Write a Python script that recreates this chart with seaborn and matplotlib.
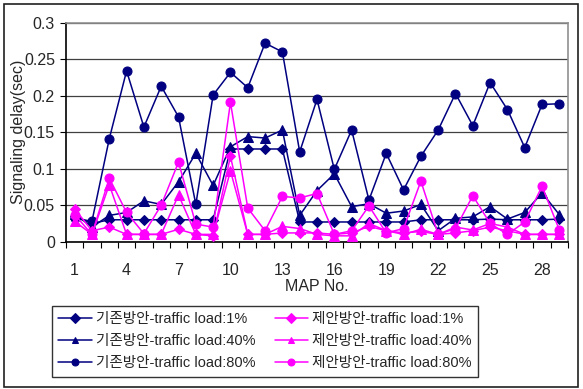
import matplotlib
matplotlib.use("Agg")
import matplotlib.pyplot as plt
import seaborn as sns
import numpy as np
import pandas as pd
from matplotlib.patches import Rectangle
from matplotlib.ticker import FixedLocator, MultipleLocator

# MAP numbers
map_no = list(range(1, 30))

# Existing scheme (기존방안)
base_1 = [0.035, 0.025, 0.030, 0.030, 0.030, 0.030, 0.030, 0.030, 0.030, 0.127,
          0.127, 0.127, 0.127, 0.027, 0.027, 0.027, 0.027, 0.027, 0.027, 0.027,
          0.030, 0.030, 0.030, 0.030, 0.031, 0.030, 0.030, 0.030, 0.031]
base_40 = [0.038, 0.020, 0.036, 0.040, 0.056, 0.051, 0.082, 0.121, 0.077, 0.130,
           0.144, 0.142, 0.153, 0.036, 0.070, 0.093, 0.048, 0.052, 0.039, 0.042,
           0.051, 0.015, 0.032, 0.034, 0.048, 0.031, 0.040, 0.067, 0.037]
base_80 = [0.032, 0.028, 0.141, 0.234, 0.157, 0.213, 0.171, 0.051, 0.201, 0.232,
           0.211, 0.272, 0.260, 0.123, 0.195, 0.099, 0.153, 0.057, 0.121, 0.071,
           0.117, 0.153, 0.203, 0.159, 0.218, 0.181, 0.129, 0.188, 0.189]

# Proposed scheme (제안방안)
prop_1 = [0.045, 0.015, 0.020, 0.010, 0.010, 0.010, 0.017, 0.010, 0.008, 0.117,
          0.010, 0.010, 0.012, 0.012, 0.012, 0.010, 0.012, 0.021, 0.015, 0.012,
          0.014, 0.010, 0.012, 0.015, 0.020, 0.015, 0.010, 0.010, 0.010]
prop_40 = [0.028, 0.010, 0.078, 0.010, 0.010, 0.010, 0.064, 0.010, 0.010, 0.097,
           0.010, 0.010, 0.021, 0.018, 0.010, 0.008, 0.008, 0.025, 0.015, 0.010,
           0.017, 0.010, 0.020, 0.016, 0.025, 0.020, 0.010, 0.010, 0.010]
prop_80 = [0.037, 0.010, 0.087, 0.040, 0.011, 0.050, 0.109, 0.024, 0.020, 0.191,
           0.046, 0.015, 0.062, 0.060, 0.066, 0.010, 0.015, 0.049, 0.012, 0.018,
           0.083, 0.010, 0.018, 0.063, 0.025, 0.010, 0.027, 0.076, 0.016]

y_ticks = [0, 0.05, 0.1, 0.15, 0.2, 0.25, 0.3]
y_tick_labels = ["0", "0.05", "0.1", "0.15", "0.2", "0.25", "0.3"]
x_tick_values = [1, 4, 7, 10, 13, 16, 19, 22, 25, 28]

NAVY = "#000080"
MAGENTA = "#FF00FF"

series = [
    ("기존방안-traffic load:1%", base_1, NAVY, "D", 5.5),
    ("기존방안-traffic load:40%", base_40, NAVY, "^", 6.5),
    ("기존방안-traffic load:80%", base_80, NAVY, "o", 6.5),
    ("제안방안-traffic load:1%", prop_1, MAGENTA, "D", 5.5),
    ("제안방안-traffic load:40%", prop_40, MAGENTA, "^", 6.5),
    ("제안방안-traffic load:80%", prop_80, MAGENTA, "o", 6.5),
]

sns.set_theme(style="white")
plt.rcParams["font.family"] = ["Liberation Sans", "Noto Sans CJK KR", "DejaVu Sans"]

fig = plt.figure(figsize=(5.83, 3.89), dpi=100)
ax = fig.add_axes([0.1132, 0.3787, 0.8611, 0.5629])

for label, vals, color, marker, ms in series:
    df = pd.DataFrame({"map": map_no, "delay": vals})
    sns.lineplot(data=df, x="map", y="delay", ax=ax, color=color,
                 marker=marker, markersize=ms, markeredgecolor=color,
                 markerfacecolor=color, linewidth=1.1, label=label,
                 legend=False, zorder=3)

ax.set_xlim(0.5, 29.5)
ax.set_ylim(0, 0.3)
ax.set_yticks(y_ticks)
ax.set_yticklabels(y_tick_labels)
ax.yaxis.grid(True, color="#404040", linewidth=0.9)
ax.xaxis.grid(False)
ax.set_axisbelow(True)

ax.xaxis.set_major_locator(FixedLocator(x_tick_values))
ax.set_xticklabels([str(v) for v in x_tick_values])
ax.xaxis.set_minor_locator(MultipleLocator(1, offset=0.5))
ax.tick_params(axis="x", which="major", length=0, pad=15, labelsize=11.5)
ax.tick_params(axis="x", which="minor", length=4, width=0.8, color="black",
               direction="out", bottom=True)
ax.tick_params(axis="y", which="major", length=4, width=0.8, color="black",
               direction="out", left=True, labelsize=11.5, pad=4)

for side in ["top", "right"]:
    ax.spines[side].set_color("#909090")
    ax.spines[side].set_linewidth(1.2)
for side in ["left", "bottom"]:
    ax.spines[side].set_color("black")
    ax.spines[side].set_linewidth(1.2)

ax.set_xlabel("MAP No.", fontsize=11.5, labelpad=1)
ax.set_ylabel("Signaling delay(sec)", fontsize=11.5)
ax.yaxis.set_label_coords(-0.08, 0.5)

handles, labels = ax.get_legend_handles_labels()
leg = fig.legend(handles, labels, ncol=2, loc="center",
                 bbox_to_anchor=(0.0961, 0.0147, 0.717, 0.216),
                 frameon=True, fancybox=False, edgecolor="black",
                 fontsize=10.5, handlelength=2.3, handletextpad=0.3,
                 columnspacing=1.3, labelspacing=0.55, borderpad=0.45,
                 borderaxespad=0)
leg.get_frame().set_linewidth(1.0)
for h in leg.legend_handles:
    h.set_markersize(5)

# outer frame around the figure
fig.patches.append(Rectangle((4 / 583, 2 / 389), 574 / 583, 383 / 389,
                             transform=fig.transFigure, fill=False,
                             edgecolor="#202020", linewidth=1.2))

fig.savefig("out.png", dpi=100)
